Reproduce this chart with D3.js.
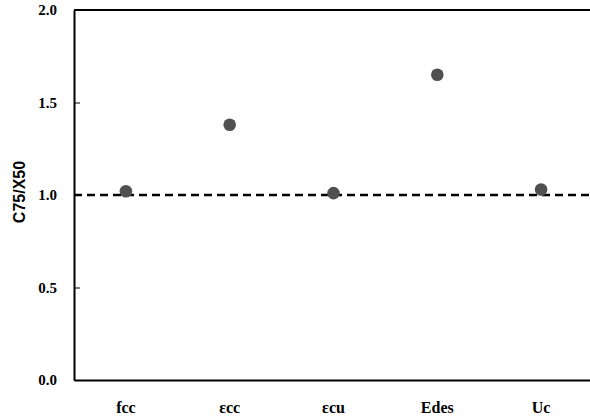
<!DOCTYPE html>
<html>
<head>
<meta charset="utf-8">
<script src="https://cdn.jsdelivr.net/npm/d3@7"></script>
<style>
  body { margin: 0; background: #fff; }
  .tick text { font-family: "Liberation Serif", "Times New Roman", serif; font-weight: bold; fill: #000; }
  .yaxis .tick text { font-size: 15px; }
  .xaxis .tick text { font-size: 16px; }
</style>
</head>
<body>
<svg id="chart"></svg>
<script>
// chart data
var categories = ["fcc", "\u03b5cc", "\u03b5cu", "Edes", "Uc"];
var ratios = [1.02, 1.38, 1.01, 1.65, 1.03];
var yTicks = [0.0, 0.5, 1.0, 1.5, 2.0];
var refValue = 1.0;

var width = 590,
    height = 419;

var margin = { top: 10, right: -3, bottom: 39, left: 74 };

var svg = d3.select("#chart")
    .attr("width", width)
    .attr("height", height);

var x = d3.scaleBand()
    .domain(categories)
    .range([margin.left, width - margin.right]);

var y = d3.scaleLinear()
    .domain([0, 2])
    .range([height - margin.bottom, margin.top]);

// frame (top line)
svg.append("line")
    .attr("x1", margin.left).attr("x2", width - margin.right)
    .attr("y1", y(2)).attr("y2", y(2))
    .attr("stroke", "#000").attr("stroke-width", 2);

// y axis with inward ticks
var yAxis = svg.append("g")
    .attr("class", "yaxis")
    .attr("transform", "translate(" + margin.left + ",0)")
    .call(d3.axisLeft(y).tickValues(yTicks).tickFormat(d3.format(".1f")).tickSizeInner(-6).tickSizeOuter(0).tickPadding(17));
yAxis.select(".domain").attr("stroke-width", 2);
yAxis.selectAll(".tick line").attr("stroke-width", 1);

// x axis
var xAxis = svg.append("g")
    .attr("class", "xaxis")
    .attr("transform", "translate(0," + y(0) + ")")
    .call(d3.axisBottom(x).tickSize(0).tickPadding(22));
xAxis.select(".domain").attr("stroke-width", 2);

// y axis title
svg.append("text")
    .attr("transform", "translate(25,192) rotate(-90)")
    .attr("text-anchor", "middle")
    .style("font-family", "Liberation Sans, Arial, sans-serif")
    .style("font-weight", "bold")
    .style("font-size", "16px")
    .text("C75/X50");

// reference line at 1.0
svg.append("line")
    .attr("x1", margin.left).attr("x2", width - margin.right)
    .attr("y1", y(refValue)).attr("y2", y(refValue))
    .attr("stroke", "#000")
    .attr("stroke-width", 2.5)
    .attr("stroke-dasharray", "8,5");

// points
svg.selectAll("circle.pt")
    .data(ratios)
    .enter().append("circle")
    .attr("class", "pt")
    .attr("cx", function (d, i) { return x(categories[i]) + x.bandwidth() / 2; })
    .attr("cy", function (d) { return y(d); })
    .attr("r", 6.3)
    .attr("fill", "#505050");
</script>
</body>
</html>
